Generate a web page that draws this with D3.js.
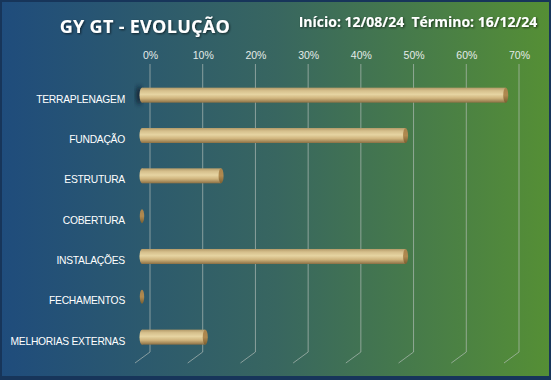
<!DOCTYPE html>
<html><head><meta charset="utf-8">
<script src="https://cdn.jsdelivr.net/npm/d3@7"></script>
<style>html,body{margin:0;padding:0;background:#fff}svg{display:block}</style>
</head><body>
<svg id="c" width="551" height="380"></svg>
<script>
const categories = ["TERRAPLENAGEM","FUNDAÇÃO","ESTRUTURA","COBERTURA","INSTALAÇÕES","FECHAMENTOS","MELHORIAS EXTERNAS"];
const values = [0.69, 0.50, 0.15, 0, 0.50, 0, 0.12];
const tickValues = [0,0.1,0.2,0.3,0.4,0.5,0.6,0.7];
const title = "GY GT - EVOLUÇÃO";
const subtitle = "Início: 12/08/24  Término: 16/12/24";

const W = 551, H = 380;
const svg = d3.select("#c");
const defs = svg.append("defs");

const bg = defs.append("linearGradient").attr("id","bg").attr("x1","0").attr("x2","1").attr("y1","0").attr("y2","0");
bg.append("stop").attr("offset","0").attr("stop-color","#1f4c7c");
bg.append("stop").attr("offset","0.5").attr("stop-color","#386660");
bg.append("stop").attr("offset","1").attr("stop-color","#558f35");

const bar = defs.append("linearGradient").attr("id","bar").attr("x1","0").attr("x2","0").attr("y1","0").attr("y2","1");
[[0,"#b39a68"],[0.2,"#d5bf8c"],[0.45,"#e6d4a2"],[0.7,"#d0b57e"],[1,"#8c7044"]].forEach(s=>bar.append("stop").attr("offset",s[0]).attr("stop-color",s[1]));
const cap = defs.append("linearGradient").attr("id","cap").attr("x1","0").attr("x2","0").attr("y1","0").attr("y2","1");
[[0,"#a8824a"],[0.5,"#b08a50"],[1,"#7a5e30"]].forEach(s=>cap.append("stop").attr("offset",s[0]).attr("stop-color",s[1]));
const sh = defs.append("filter").attr("id","ts").attr("x","-10%").attr("y","-20%").attr("width","130%").attr("height","150%");
sh.append("feDropShadow").attr("dx",1).attr("dy",1).attr("stdDeviation",1).attr("flood-color","#000").attr("flood-opacity",0.6);
const bs = defs.append("filter").attr("id","bs").attr("x","-20%").attr("y","-50%").attr("width","140%").attr("height","200%");
bs.append("feGaussianBlur").attr("stdDeviation",2);

svg.append("rect").attr("x",0).attr("y",0).attr("width",W).attr("height",H).attr("fill","#17355a");
svg.append("rect").attr("x",2).attr("y",2).attr("width",W-4).attr("height",H-6).attr("fill","url(#bg)");

const x = d3.scaleLinear().domain([0,0.7]).range([150,519]);
const y = d3.scaleBand().domain(categories).range([75,357.3]).padding(0);
const dx = -8, thick = 15;
const gridTop = 64, gridBot = 352;

// gridlines (back plane) with floor diagonal
const grid = svg.append("g");
tickValues.forEach(t=>{
  grid.append("path")
    .attr("d",`M${x(t)},${gridTop}V${gridBot}l-15,11`)
    .attr("fill","none").attr("stroke","#b9c2bd").attr("stroke-opacity",0.65).attr("stroke-width",1);
});

// top axis
const ax = svg.append("g").attr("transform",`translate(0,${gridTop-5})`)
  .call(d3.axisTop(x).tickValues(tickValues).tickFormat(d3.format(".0%")).tickSize(0).tickPadding(0));
ax.select(".domain").remove();
ax.selectAll("text").attr("fill","#e4ebe8").attr("font-family","Liberation Sans, Arial, sans-serif").attr("font-size","10.5px");

// category labels
svg.append("g").selectAll("text").data(categories).join("text")
  .attr("x",125).attr("y",d=>y(d)+y.bandwidth()/2+7.5)
  .attr("text-anchor","end").attr("fill","#ffffff")
  .attr("font-family","Liberation Sans, Arial, sans-serif").attr("font-size","10.3px")
  .attr("letter-spacing","-0.25px")
  .text(d=>d);

// bars
const bars = svg.append("g");
categories.forEach((c,i)=>{
  const v = values[i];
  const cy = y(c)+y.bandwidth()/2;
  const x0 = x(0)+dx, x1 = x(v)+dx;
  const g = bars.append("g");
  if (v>0) {
    if (i===0) g.append("ellipse").attr("cx",x0-3).attr("cy",cy).attr("rx",3).attr("ry",thick/2+2).attr("fill","#0b1a2a").attr("opacity",0.8).attr("filter","url(#bs)");
    g.append("rect").attr("x",x0).attr("y",cy-thick/2).attr("width",x1-x0).attr("height",thick).attr("fill","url(#bar)");
    g.append("ellipse").attr("cx",x0).attr("cy",cy).attr("rx",2.5).attr("ry",thick/2).attr("fill","url(#bar)");
    g.append("ellipse").attr("cx",x1).attr("cy",cy).attr("rx",2.5).attr("ry",thick/2).attr("fill","url(#cap)");
  } else {
    g.append("ellipse").attr("cx",x0).attr("cy",cy).attr("rx",2.2).attr("ry",thick/2-0.5).attr("fill","url(#cap)");
  }
});

// titles
svg.append("text").attr("x",145).attr("y",33).attr("text-anchor","middle")
  .attr("fill","#ffffff").attr("font-family","Open Sans, DejaVu Sans, sans-serif").attr("font-weight","bold").attr("font-size","18px")
  .attr("letter-spacing","0.3px")
  .attr("filter","url(#ts)").text(title);
svg.append("text").attr("x",418).attr("y",27).attr("text-anchor","middle")
  .attr("fill","#ffffff").attr("font-family","Open Sans, DejaVu Sans, sans-serif").attr("font-weight","bold").attr("font-size","14px")
  .style("white-space","pre")
  .attr("filter","url(#ts)").text(subtitle);
</script>
</body></html>
